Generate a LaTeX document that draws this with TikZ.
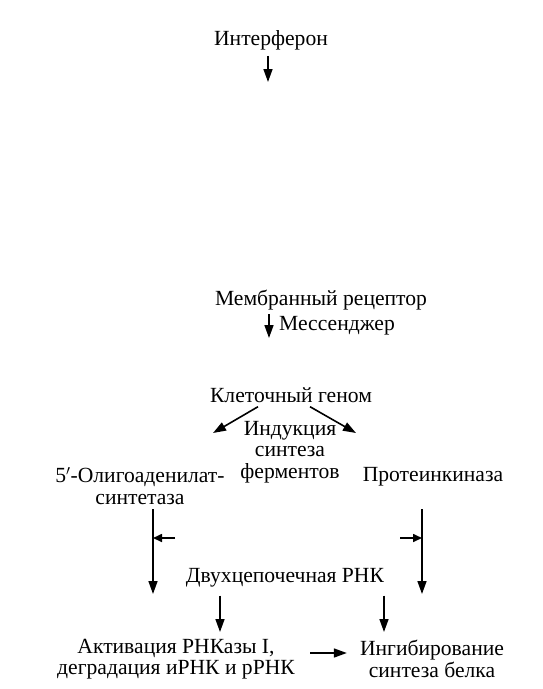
\documentclass[tikz,border=0pt]{standalone}
\usepackage{fontspec}
\setmainfont{Liberation Serif}
\usepackage{tikz}
\usetikzlibrary{arrows.meta, positioning}

\begin{document}
\begin{tikzpicture}[x=1pt, y=-1pt,
    every node/.style={font=\fontsize{21.6}{21.5}\selectfont, align=center, inner sep=0pt},
    arr/.style={-{Triangle[length=13pt, width=9pt]}, line width=1.6pt},
    tick/.style={-{Triangle[length=9pt, width=8pt]}, line width=1.6pt}]
    \useasboundingbox (0,0) rectangle (542,689);

    % Top of the chain
    \node (ifn) at (271,40) {Интерферон};
    \coordinate (ifn_end) at (268,82);
    \draw[arr] (ifn.south -| ifn_end) ++(0,6) -- (ifn_end);

    \node (receptor) at (321,300) {Мембранный рецептор};
    \node[anchor=west] (messenger) at (279,326) {Мессенджер};
    \coordinate (msg_end) at (269,338);
    \draw[arr] (receptor.south -| msg_end) ++(0,4) -- (msg_end);

    % Genome and induced enzymes
    \node (genome) at (291,395) {Клеточный геном};
    \node (induction) at (290,452) {Индукция\\синтеза\\ферментов};
    \node (oas) at (140,486) {5$'$-Олигоаденилат-\\синтетаза};
    \node (pkr) at (433,477) {Протеинкиназа};
    \coordinate (oas_tip) at (213,433);
    \coordinate (pkr_tip) at (356,433);
    \draw[arr] ([xshift=-33pt,yshift=-4pt]genome.south) -- (oas_tip);
    \draw[arr] ([xshift=19pt,yshift=-4pt]genome.south) -- (pkr_tip);

    % Double-stranded RNA activation
    \node (dsrna) at (285,578) {Двухцепочечная РНК};
    \coordinate (oas_end) at (153,594);
    \coordinate (pkr_end) at (422,594);
    \draw[arr] (oas_end |- 0,509) -- (oas_end);
    \draw[arr] (pkr_end |- 0,509) -- (pkr_end);
    \coordinate (left_in) at (175,538);
    \coordinate (right_in) at (400,538);
    \draw[tick] (left_in) -- (left_in -| oas_end);
    \draw[tick] (right_in) -- (right_in -| pkr_end);

    % Outcomes
    \node (rnase) at (176,659) {Активация РНКазы I,\\деградация иРНК и рРНК};
    \node (inhib) at (432,659) {Ингибирование\\синтеза белка};
    \coordinate (rnase_in) at (220,632);
    \coordinate (inhib_in) at (384,632);
    \draw[arr] (dsrna.south -| rnase_in) ++(0,8) -- (rnase_in);
    \draw[arr] (dsrna.south -| inhib_in) ++(0,8) -- (inhib_in);
    \draw[arr] ([xshift=15pt,yshift=6pt]rnase.east) -- ([xshift=-13pt,yshift=6pt]inhib.west);
\end{tikzpicture}
\end{document}
